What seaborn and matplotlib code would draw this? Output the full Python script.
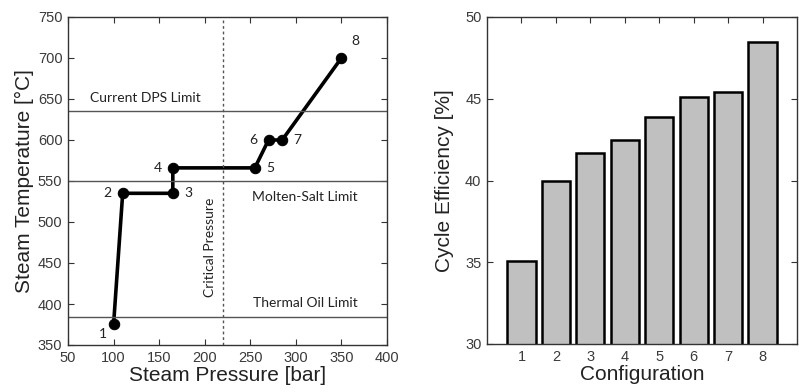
import matplotlib
matplotlib.use("Agg")
import matplotlib.pyplot as plt
import seaborn as sns
import pandas as pd

# ---- data ----
pressure = [100, 110, 165, 165, 255, 270, 285, 350]
temperature = [375, 535, 535, 566, 566, 600, 600, 700]
point_labels = ["1", "2", "3", "4", "5", "6", "7", "8"]
limit_names = ["Current DPS Limit", "Molten-Salt Limit", "Thermal Oil Limit"]
limit_values = [635, 550, 384]
critical_pressure = 220.6

configurations = [1, 2, 3, 4, 5, 6, 7, 8]
efficiency = [35.1, 40.0, 41.7, 42.45, 43.9, 45.1, 45.4, 48.5]

sns.set_theme(style="white")
plt.rcParams['font.family'] = ['Liberation Sans', 'DejaVu Sans']

fig = plt.figure(figsize=(7.99, 3.92), dpi=100)
ax1 = fig.add_axes([68/799, 1-345/392, 319/799, 328/392])
ax2 = fig.add_axes([487/799, 1-344/392, 310/799, 327/392])

tick_color = "#3a3a3a"
for ax in (ax1, ax2):
    for s in ax.spines.values():
        s.set_color("#333333")
        s.set_linewidth(1.0)
    ax.tick_params(direction="in", top=True, right=True, length=4, width=0.8,
                   colors="#333333", labelcolor=tick_color, labelsize=10.5,
                   bottom=True, left=True, pad=4)

# ---- left panel ----
df = pd.DataFrame({"p": pressure, "T": temperature})
sns.lineplot(data=df, x="p", y="T", sort=False, estimator=None, color="black",
             linewidth=2.6, marker="o", markersize=7.5, markeredgecolor="black", ax=ax1)
for v in limit_values:
    ax1.axhline(v, color="#555555", linewidth=1.0)
ax1.axvline(critical_pressure, color="#555555", linewidth=1.0, linestyle=(0, (2, 2)))

ann_font = dict(family=['Lato', 'DejaVu Sans'], fontsize=10, color="#222222")
ax1.text(74, 644, limit_names[0], ha="left", va="bottom", **ann_font)
ax1.text(310, 530, limit_names[1], ha="center", va="center", **ann_font)
ax1.text(310, 401, limit_names[2], ha="center", va="center", **ann_font)
ax1.text(206, 469, "Critical Pressure", rotation=90, ha="center", va="center", **ann_font)

offsets = [(-8, -7), (-11, 0), (11, 0), (-11, 0), (11, 0), (-11, 0), (11, 0), (10, 12)]
for x, y, lab, (dx, dy) in zip(pressure, temperature, point_labels, offsets):
    ax1.annotate(lab, (x, y), xytext=(dx, dy), textcoords="offset points",
                 ha="center", va="center", **ann_font)

ax1.set_xlim(50, 400)
ax1.set_ylim(350, 750)
ax1.set_xticks(range(50, 401, 50))
ax1.set_yticks(range(350, 751, 50))
ax1.set_xlabel("Steam Pressure [bar]", fontsize=15, color="#222222", labelpad=1)
ax1.set_ylabel("Steam Temperature [°C]", fontsize=15, color="#222222", labelpad=3)

# ---- right panel ----
dfb = pd.DataFrame({"c": configurations, "e": efficiency})
sns.barplot(data=dfb, x="c", y="e", native_scale=True, color="#c0c0c0",
            saturation=1, edgecolor="black", linewidth=1.8, width=0.82, ax=ax2)
ax2.set_xlim(0, 9)
ax2.set_ylim(30, 50)
ax2.set_xticks(configurations)
ax2.set_yticks(range(30, 51, 5))
ax2.set_xlabel("Configuration", fontsize=15, color="#222222", labelpad=1)
ax2.set_ylabel("Cycle Efficiency [%]", fontsize=15, color="#222222", labelpad=8)

fig.savefig("out.png", dpi=100)
